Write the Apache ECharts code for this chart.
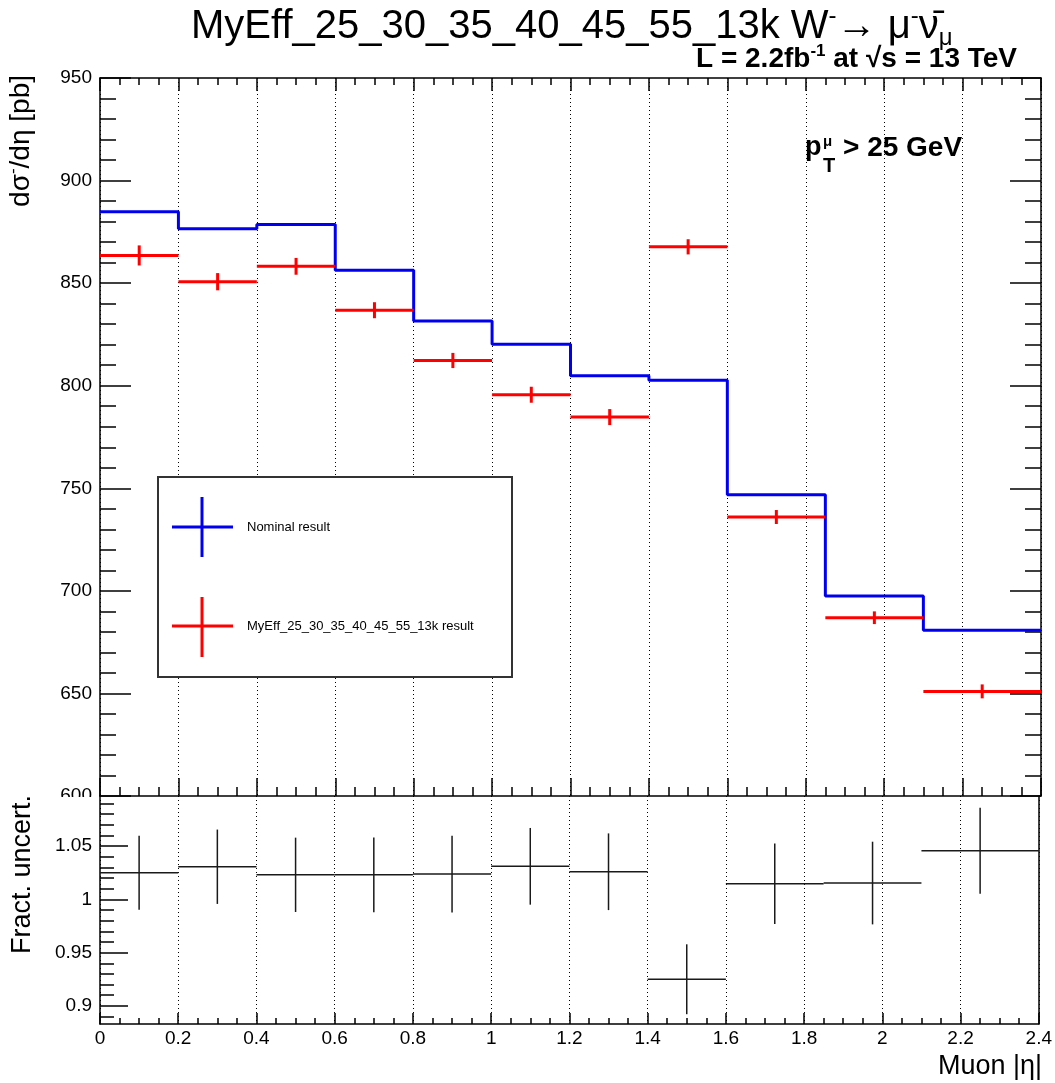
<!DOCTYPE html>
<html>
<head>
<meta charset="utf-8">
<script src="https://cdn.jsdelivr.net/npm/echarts@6/dist/echarts.min.js"></script>
<style>
html,body{margin:0;padding:0;background:#fff;}
#chart{width:1055px;height:1083px;}
</style>
</head>
<body>
<div id="chart"></div>
<script>
// ---- data ----
const binEdges = [0, 0.2, 0.4, 0.6, 0.8, 1.0, 1.2, 1.4, 1.6, 1.85, 2.1, 2.4];
const nominal = [884.8, 876.5, 878.6, 856.3, 831.5, 820.2, 804.9, 802.7, 746.8, 697.5, 680.8];
const myEff = [863.5, 850.7, 858.2, 836.8, 812.3, 795.6, 784.7, 867.7, 736.0, 686.9, 651.0];
const myEffErr = [4.9, 4.2, 4.1, 3.9, 3.7, 3.9, 3.9, 3.7, 3.4, 3.1, 3.4];
const ratio = [1.025, 1.0306, 1.023, 1.023, 1.0237, 1.031, 1.0259, 0.925, 1.0146, 1.0153, 1.0456];
const ratioErr = [0.0347, 0.0349, 0.0349, 0.035, 0.036, 0.036, 0.036, 0.0328, 0.0378, 0.0388, 0.0403];
const ratioMajorTicks = [0.9, 0.95, 1, 1.05];
const ratioMinorTicks = [0.89, 0.91, 0.92, 0.93, 0.94, 0.96, 0.97, 0.98, 0.99, 1.01, 1.02, 1.03, 1.04, 1.06, 1.07, 1.08, 1.09];
const legendNames = ['Nominal result', 'MyEff_25_30_35_40_45_55_13k result'];

// minor tick positions (axis furniture only)
const xMinorTicks = [];
for (let k = 1; k < 48; k++) if (k % 4) xMinorTicks.push(k * 0.05);
const yMinorTicks = [];
for (let v = 610; v < 950; v += 10) if (v % 50) yMinorTicks.push(v);

const FONT = "'Liberation Sans', Arial, Helvetica, sans-serif";

const chart = echarts.init(document.getElementById('chart'), null, {renderer: 'canvas'});

const stepData = binEdges.map((e, i) => [e, nominal[Math.min(i, nominal.length - 1)]]);
const redData = myEff.map((v, i) => [binEdges[i], binEdges[i + 1], v, myEffErr[i]]);
const ratioData = ratio.map((v, i) => [binEdges[i], binEdges[i + 1], v, ratioErr[i]]);

function errRender(color, lw) {
  return function (params, api) {
    const x0 = api.value(0), x1 = api.value(1), y = api.value(2), e = api.value(3);
    const xc = (x0 + x1) / 2;
    const pL = api.coord([x0, y]), pR = api.coord([x1, y]);
    const pT = api.coord([xc, y + e]), pB = api.coord([xc, y - e]);
    return {
      type: 'group',
      children: [
        {type: 'line', shape: {x1: pL[0], y1: pL[1], x2: pR[0], y2: pR[1]}, style: {stroke: color, lineWidth: lw}},
        {type: 'line', shape: {x1: pT[0], y1: pT[1], x2: pB[0], y2: pB[1]}, style: {stroke: color, lineWidth: lw}}
      ]
    };
  };
}

const tickStyle = {color: '#000', width: 1.5};
const lineOn = {show: true, onZero: false, lineStyle: {color: '#000', width: 1.5}};
const lineOff = {show: false, onZero: false};
const dotted = {show: true, lineStyle: {color: '#000', width: 1, type: [1, 3]}};

function xAx(grid, pos, len, opts) {
  return Object.assign({
    gridIndex: grid, type: 'value', min: 0, max: 2.4, interval: 0.2, position: pos,
    axisLine: lineOn,
    axisLabel: {show: false},
    axisTick: {show: true, inside: true, length: len, lineStyle: tickStyle},
    splitLine: {show: false}
  }, opts || {});
}
function xMinor(grid, pos, len) {
  return xAx(grid, pos, len, {
    axisLine: lineOff,
    axisTick: {show: true, inside: true, length: len, lineStyle: tickStyle, customValues: xMinorTicks}
  });
}
function yTop(pos, len, opts) {
  return Object.assign({
    gridIndex: 0, type: 'value', min: 600, max: 950, interval: 50, position: pos,
    axisLine: lineOn,
    axisLabel: {show: false},
    axisTick: {show: true, inside: true, length: len, lineStyle: tickStyle},
    splitLine: {show: false}
  }, opts || {});
}
function yBot(pos, opts) {
  return Object.assign({
    gridIndex: 1, type: 'value', min: 0.883, max: 1.097, position: pos,
    axisLine: lineOn,
    axisLabel: {show: false},
    axisTick: {show: false},
    splitLine: {show: false}
  }, opts || {});
}

function txt(text, x, y, opts) {
  return Object.assign({
    type: 'text', x: x, y: y, z: 60,
    style: Object.assign({
      text: text, x: 0, y: 0, fill: '#000',
      align: 'left', textAlign: 'left',
      verticalAlign: 'middle', textVerticalAlign: 'middle',
      font: '13px ' + FONT
    }, opts && opts.style || {})
  }, opts && opts.el || {});
}

const option = {
  animation: false,
  backgroundColor: '#fff',
  grid: [
    {left: 100, top: 78, width: 941, height: 718},
    {left: 100, top: 796, width: 941, height: 228}
  ],
  xAxis: [
    xAx(0, 'bottom', 18, {splitLine: dotted}),          // 0
    xMinor(0, 'bottom', 9),                              // 1
    xAx(0, 'top', 13),                                   // 2
    xMinor(0, 'top', 7),                                 // 3
    xAx(1, 'bottom', 11, {                               // 4
      splitLine: dotted,
      axisLabel: {show: true, fontSize: 19, color: '#000', fontFamily: FONT, margin: 5}
    }),
    xMinor(1, 'bottom', 6)                               // 5
  ],
  yAxis: [
    yTop('left', 31, {axisLabel: {show: true, fontSize: 19, color: '#000', fontFamily: FONT, margin: 8}}), // 0
    yTop('left', 16, {axisLine: lineOff,
      axisTick: {show: true, inside: true, length: 16, lineStyle: tickStyle, customValues: yMinorTicks}}),  // 1
    yTop('right', 31),                                                                                       // 2
    yTop('right', 16, {axisLine: lineOff,
      axisTick: {show: true, inside: true, length: 16, lineStyle: tickStyle, customValues: yMinorTicks}}),  // 3
    yBot('left', {                                                                                           // 4
      axisLabel: {show: true, fontSize: 19, color: '#000', fontFamily: FONT, margin: 8, customValues: ratioMajorTicks},
      axisTick: {show: true, inside: true, length: 28, lineStyle: tickStyle, customValues: ratioMajorTicks}
    }),
    yBot('left', {axisLine: lineOff,                                                                         // 5
      axisTick: {show: true, inside: true, length: 14, lineStyle: tickStyle, customValues: ratioMinorTicks}}),
    yBot('right')                                                                                            // 6
  ],
  series: [
    {type: 'line', name: legendNames[0], xAxisIndex: 0, yAxisIndex: 0, data: stepData, step: 'end',
      symbol: 'none', lineStyle: {color: '#0000ee', width: 3}, z: 5},
    {type: 'custom', name: legendNames[1], xAxisIndex: 0, yAxisIndex: 0, data: redData,
      encode: {x: [0, 1], y: 2}, renderItem: errRender('#ff0000', 3), z: 6},
    {type: 'custom', name: 'ratio', xAxisIndex: 4, yAxisIndex: 4, data: ratioData,
      encode: {x: [0, 1], y: 2}, renderItem: errRender('#1a1a1a', 1.5), z: 6}
  ],
  graphic: [
    // cover lower half of the "600" label (bottom pad drawn over the top pad)
    {type: 'rect', z: 100, shape: {x: 48, y: 797, width: 51, height: 16}, style: {fill: '#fff'}},
    // title
    txt('{t|MyEff_25_30_35_40_45_55_13k W}{sp|-}{t|→ μ}{sp|-}{t|ν̄}{sb|μ}', 191, 27, {style: {
      font: '40px ' + FONT,
      rich: {
        t: {fontSize: 40, fontFamily: FONT, lineHeight: 46, fill: '#000'},
        sp: {fontSize: 24, fontFamily: FONT, lineHeight: 24, verticalAlign: 'top', fill: '#000'},
        sb: {fontSize: 24, fontFamily: FONT, lineHeight: 24, verticalAlign: 'bottom', fill: '#000'}
      }}}),
    // luminosity
    txt('{b|L = 2.2fb}{bs|-1}{b| at √s = 13 TeV}', 1017, 59, {style: {
      align: 'right', textAlign: 'right',
      font: 'bold 28px ' + FONT,
      rich: {
        b: {fontSize: 28, fontWeight: 'bold', fontFamily: FONT, lineHeight: 32, fill: '#000'},
        bs: {fontSize: 17, fontWeight: 'bold', fontFamily: FONT, lineHeight: 17, verticalAlign: 'top', fill: '#000'}
      }}}),
    // pT cut label
    txt('p', 805, 148, {style: {font: 'bold 27px ' + FONT}}),
    txt('μ', 823, 142, {style: {font: 'bold 15px ' + FONT}}),
    txt('T', 823, 166, {style: {font: 'bold 20px ' + FONT}}),
    txt('> 25 GeV', 843, 148, {style: {font: 'bold 28px ' + FONT}}),
    // axis titles
    txt('{a|dσ}{s|-}{a|/dη [pb]}', 21, 75, {el: {rotation: Math.PI / 2}, style: {
      align: 'right', textAlign: 'right', font: '28px ' + FONT,
      rich: {
        a: {fontSize: 28, fontFamily: FONT, lineHeight: 32, fill: '#000'},
        s: {fontSize: 17, fontFamily: FONT, lineHeight: 17, verticalAlign: 'top', fill: '#000'}
      }}}),
    txt('Fract. uncert.', 23, 795, {el: {rotation: Math.PI / 2}, style: {
      align: 'right', textAlign: 'right', font: '27px ' + FONT}}),
    txt('Muon |η|', 1042, 1067, {style: {align: 'right', textAlign: 'right', font: '27px ' + FONT}}),
    // legend
    {type: 'rect', z: 50, shape: {x: 158, y: 477, width: 354, height: 200},
      style: {fill: '#fff', stroke: '#333', lineWidth: 2}},
    {type: 'line', z: 55, shape: {x1: 172, y1: 527, x2: 233, y2: 527}, style: {stroke: '#0000ee', lineWidth: 3}},
    {type: 'line', z: 55, shape: {x1: 202, y1: 497, x2: 202, y2: 557}, style: {stroke: '#0000ee', lineWidth: 3}},
    txt(legendNames[0], 247, 527, {style: {font: '13px ' + FONT}}),
    {type: 'line', z: 55, shape: {x1: 172, y1: 626, x2: 233, y2: 626}, style: {stroke: '#ff0000', lineWidth: 3}},
    {type: 'line', z: 55, shape: {x1: 202, y1: 597, x2: 202, y2: 657}, style: {stroke: '#ff0000', lineWidth: 3}},
    txt(legendNames[1], 247, 626, {style: {font: '13px ' + FONT}})
  ]
};

chart.setOption(option);
</script>
</body>
</html>
